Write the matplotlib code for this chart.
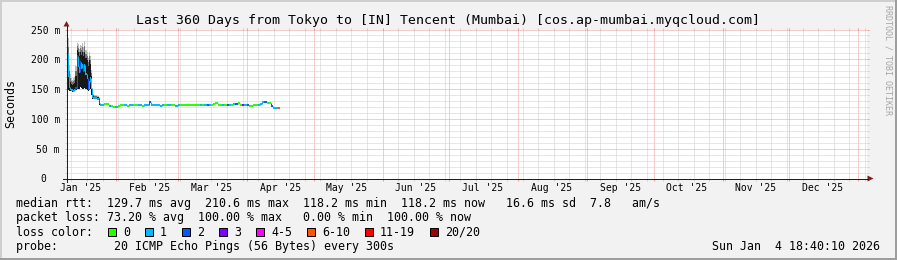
import datetime as dt
import matplotlib
matplotlib.use("Agg")
import matplotlib.pyplot as plt
import matplotlib.dates as mdates
import matplotlib.transforms as mtransforms
from matplotlib.collections import LineCollection
from matplotlib.lines import Line2D
from matplotlib.patches import Polygon, Rectangle
from matplotlib.ticker import MultipleLocator, NullFormatter

plt.rcParams['font.family'] = ['DejaVu Sans Mono']
plt.rcParams['lines.scale_dashes'] = False

W, H = 897, 260
END = dt.datetime(2026, 1, 4, 18, 40, 10)
START = END - dt.timedelta(days=360)

# first 15 days, one value every 12 h (ms)
early_rtt = [211, 172, 153, 150, 149, 148, 147, 149, 152, 205,
             188, 178, 196, 185, 190, 180, 190, 175, 168, 150,
             162, 168, 152, 136, 135, 135, 135, 134, 134, 127]
early_loss = [2, 1, 1, 1, 1, 1, 1, 1, 2, 2,
              1, 1, 2, 1, 1, 2, 1, 1, 1, 2,
              1, 1, 0, 1, 1, 1, 1, 1, 1, 2]
smoke_lo = [150, 148, 146, 146, 146, 145, 145, 146, 148, 150,
            150, 150, 153, 152, 150, 150, 152, 150, 148, 146,
            148, 150, 140, 134, 134, 134, 133, 133, 133, 124]
smoke_hi = [225, 205, 170, 162, 158, 157, 158, 160, 172, 215,
            212, 205, 213, 208, 212, 206, 213, 203, 198, 188,
            198, 192, 172, 142, 138, 137, 137, 136, 136, 133]
smoke_top = [250, 235, 190, 175, 168, 166, 168, 170, 188, 228,
             225, 218, 224, 222, 228, 220, 230, 216, 212, 202,
             212, 206, 182, 148, 142, 140, 140, 139, 139, 136]

# afterwards one value per day, until the target stops answering
daily_rtt = [124, 124, 125, 125, 122, 121, 120, 120, 121, 123,
             123, 123, 122, 123, 123, 124, 123, 123, 123, 122,
             123, 124, 129, 123, 123, 123, 123, 122, 123, 123,
             123, 123, 123, 123, 122, 123, 123, 123, 123, 123,
             123, 123, 124, 124, 124, 124, 123, 123, 123, 123,
             123, 125, 126, 124, 123, 123, 123, 123, 123, 124,
             125, 125, 127, 124, 123, 123, 123, 122, 122, 123,
             123, 124, 125, 128, 129, 127, 126, 121, 119, 119,
             118]
daily_loss = [1, 1, 0, 0, 1, 0, 0, 1, 0, 0,
              0, 1, 0, 1, 1, 0, 0, 1, 1, 0,
              1, 1, 2, 1, 1, 1, 1, 1, 1, 0,
              1, 1, 0, 0, 1, 1, 0, 0, 0, 0,
              0, 0, 0, 0, 0, 1, 0, 1, 2, 1,
              0, 0, 0, 0, 0, 1, 0, 2, 1, 0,
              1, 2, 0, 0, 3, 1, 2, 0, 0, 0,
              0, 1, 1, 1, 2, 0, 0, 2, 1, 1,
              5]

loss_labels = ["0", "1", "2", "3", "4-5", "6-10", "11-19", "20/20"]
loss_colors = ["#26ff00", "#00b8ff", "#0059ff", "#7e00ff",
               "#ff00ff", "#ff5500", "#ff0000", "#a00000"]

title = "Last 360 Days from Tokyo to [IN] Tencent (Mumbai) [cos.ap-mumbai.myqcloud.com]"
legend_lines = [
    "median rtt:  129.7 ms avg  210.6 ms max  118.2 ms min  118.2 ms now   16.6 ms sd  7.8   am/s",
    "packet loss: 73.20 % avg  100.00 % max   0.00 % min  100.00 % now",
    "loss color:",
    "probe:        20 ICMP Echo Pings (56 Bytes) every 300s",
]
stamp = "Sun Jan  4 18:40:10 2026"
y_ticks = [0, 50, 100, 150, 200, 250]
y_labels = ["0", "50 m", "100 m", "150 m", "200 m", "250 m"]

# rrdtool default palette
BACK = "#f2f2f2"
SHADEA = "#cfcfcf"
SHADEB = "#9e9e9e"
GRID = "#cfcfcf"
MGRID = "#eb9a9a"
ARROW = "#801f1f"
AXIS = "#1f1f1f"

fig = plt.figure(figsize=(W / 100, H / 100), dpi=100, facecolor=BACK)
# pixel coords, origin top-left
pix = mtransforms.Affine2D().scale(1 / W, -1 / H).translate(0, 1) + fig.transFigure

ax = fig.add_axes([66.5 / W, (H - 178.5) / H, 800 / W, 149 / H])
ax.set_facecolor("white")
for s in ax.spines.values():
    s.set_visible(False)

t_early = [START + dt.timedelta(hours=12 * i) for i in range(len(early_rtt))]
t_daily = [START + dt.timedelta(days=15 + i) for i in range(len(daily_rtt))]
times = list(mdates.date2num(t_early + t_daily + [t_daily[-1] + dt.timedelta(days=1)]))
rtt = early_rtt + daily_rtt
loss = early_loss + daily_loss

# smoke
n = len(smoke_lo)
ts = times[:n + 1]
lo = smoke_lo + smoke_lo[-1:]
hi = smoke_hi + smoke_hi[-1:]
top = smoke_top + smoke_top[-1:]
mid = [(a + b) / 2 for a, b in zip(hi, top)]
ax.fill_between(ts, hi, top, step='post', color='#bdbdbd', lw=0, zorder=2)
ax.fill_between(ts, hi, mid, step='post', color='#707070', lw=0, zorder=2)
ax.fill_between(ts, lo, hi, step='post', color='#181818', lw=0, zorder=2)

# median line coloured by loss
hsegs, hcols, vsegs, vcols = [], [], [], []
for i, v in enumerate(rtt):
    c = loss_colors[loss[i]]
    if i > 0:
        vsegs.append([(times[i], rtt[i - 1]), (times[i], v)])
        vcols.append(c)
    hsegs.append([(times[i], v), (times[i + 1], v)])
    hcols.append(c)
ax.add_collection(LineCollection(vsegs, colors=vcols, linewidths=0.72,
                                 capstyle='butt', zorder=3))
ax.add_collection(LineCollection(hsegs, colors=hcols, linewidths=1.4,
                                 capstyle='butt', zorder=3))

ax.set_xlim(mdates.date2num(START), mdates.date2num(END))
ax.set_ylim(0, 250)
ax.xaxis.set_major_locator(mdates.MonthLocator())
ax.xaxis.set_minor_locator(mdates.WeekdayLocator(byweekday=mdates.SU))
ax.yaxis.set_major_locator(MultipleLocator(50))
ax.yaxis.set_minor_locator(MultipleLocator(10))
for a in (ax.xaxis, ax.yaxis):
    a.set_major_formatter(NullFormatter())
    a.set_minor_formatter(NullFormatter())
ax.grid(which='minor', color=GRID, lw=0.72, ls=(0, (0.72, 0.72)), zorder=1)
ax.grid(which='major', color=MGRID, lw=0.72, ls=(0, (0.72, 0.72)), zorder=1)
ax.set_axisbelow(True)
ax.tick_params(which='both', direction='out', length=1.44,
               left=True, right=True, bottom=True, top=True)
ax.tick_params(which='major', color=MGRID, width=0.72)
ax.tick_params(which='minor', color=GRID, width=0.72)

# y labels
ytr = mtransforms.blended_transform_factory(pix, ax.transData)
for v, lab in zip(y_ticks, y_labels):
    xr = 60 if lab.endswith("m") else 46.5
    fig.text(xr, v, lab, transform=ytr, ha='right', va='center_baseline',
             fontsize=7.06)

# month labels, centred half a month in
xtr = mtransforms.blended_transform_factory(ax.transData, pix)
m = dt.datetime(2025, 1, 1)
while m + dt.timedelta(days=15) < END:
    xc = mdates.date2num(m + dt.timedelta(days=15))
    fig.text(xc, 190.7, m.strftime("%b '%y"), transform=xtr, ha='center',
             va='baseline', fontsize=7.06)
    m = dt.datetime(m.year + (m.month // 12), m.month % 12 + 1, 1)

# axes with arrows
fig.add_artist(Line2D([63, 868], [178.5, 178.5], color=AXIS, lw=0.72, transform=pix))
fig.add_artist(Line2D([66.5, 66.5], [182, 26], color=AXIS, lw=0.72, transform=pix))
fig.add_artist(Polygon([(63.5, 26.5), (69.5, 26.5), (66.5, 21)], closed=True,
                       color=ARROW, lw=0, transform=pix))
fig.add_artist(Polygon([(867.5, 175.5), (867.5, 181.5), (873.5, 178.5)], closed=True,
                       color=ARROW, lw=0, transform=pix))

fig.text(448.5, 24, title, transform=pix, ha='center', va='baseline', fontsize=9.55)
fig.text(10.5, 103.5, "Seconds", transform=pix, ha='center', va='center',
         rotation=90, fontsize=8.37)
fig.text(888, 5, "RRDTOOL / TOBI OETIKER", transform=pix, ha='center', va='top',
         rotation=270, fontsize=6, color='#a6a6a6')

for k, line in enumerate(legend_lines):
    fig.text(16, 207 + 14.3 * k, line, transform=pix, ha='left', va='baseline',
             fontsize=8.37)
fig.text(880, 250, stamp, transform=pix, ha='right', va='baseline', fontsize=8.37)

x = 108
for lab, col in zip(loss_labels, loss_colors):
    fig.add_artist(Rectangle((x, 228), 8, 8, facecolor=col, edgecolor='black',
                             lw=0.72, transform=pix))
    fig.text(x + 15, 235.7, lab, transform=pix, ha='left', va='baseline', fontsize=8.37)
    x += 7 * len(lab) + 30

# 3d frame
fig.add_artist(Rectangle((0, 0), W, 2, color=SHADEA, lw=0, transform=pix))
fig.add_artist(Rectangle((0, 0), 2, H, color=SHADEA, lw=0, transform=pix))
fig.add_artist(Rectangle((0, H - 2), W, 2, color=SHADEB, lw=0, transform=pix))
fig.add_artist(Rectangle((W - 2, 0), 2, H, color=SHADEB, lw=0, transform=pix))

fig.savefig("out.png", dpi=100, facecolor=BACK)
